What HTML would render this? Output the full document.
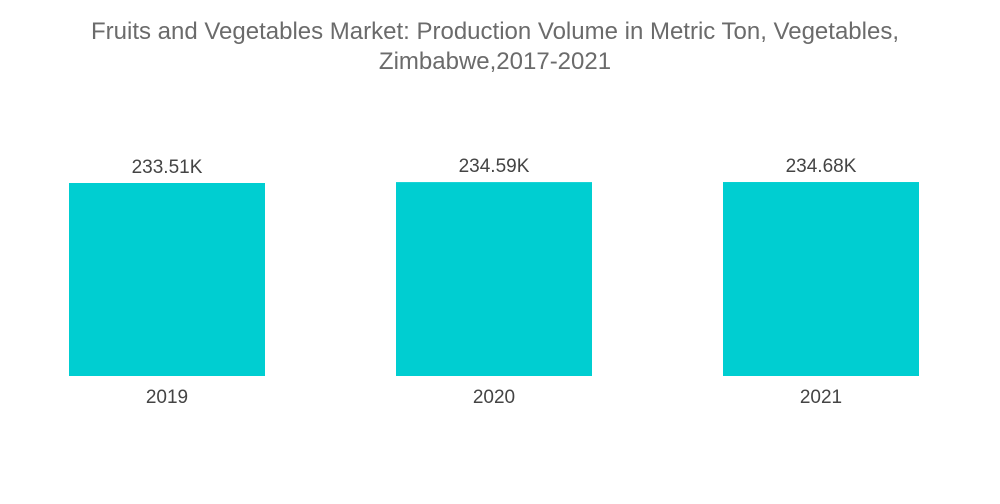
<!DOCTYPE html>
<html>
<head>
<meta charset="utf-8">
<style>
  html,body{margin:0;padding:0;background:#fff;}
  body{width:1000px;height:504px;overflow:hidden;font-family:"Liberation Sans",sans-serif;}
  .title{position:absolute;left:0;top:17px;width:990px;text-align:center;font-size:24px;line-height:30px;color:#6b6b6b;}
</style>
</head>
<body>
<div class="title">Fruits and Vegetables Market: Production Volume in Metric Ton, Vegetables,<br>Zimbabwe,2017-2021</div>
<svg id="chart" width="1000" height="504" style="position:absolute;left:0;top:0"></svg>
<script>
const categories = ["2019", "2020", "2021"];
const values = [233.51, 234.59, 234.68];
const valueLabels = ["233.51K", "234.59K", "234.68K"];

const svg = document.getElementById('chart');
const NS = 'http://www.w3.org/2000/svg';
const baseY = 376, pxPerUnit = 193 / 233.51;
const barW = 196, firstX = 69, step = 327;
function xPos(i){ return firstX + i * step; }
function yPos(v){ return baseY - v * pxPerUnit; }

categories.forEach((c, i) => {
  const x = xPos(i), y = yPos(values[i]);
  const r = document.createElementNS(NS, 'rect');
  r.setAttribute('x', x); r.setAttribute('y', y);
  r.setAttribute('width', barW); r.setAttribute('height', baseY - y);
  r.setAttribute('fill', '#00ced1');
  
  
  svg.appendChild(r);

  const vl = document.createElementNS(NS, 'text');
  vl.setAttribute('x', x + barW / 2); vl.setAttribute('y', y - 10);
  vl.setAttribute('text-anchor', 'middle');
  vl.setAttribute('font-size', '19'); vl.setAttribute('fill', '#444');
  vl.setAttribute('font-family', 'Liberation Sans, sans-serif');
  vl.textContent = valueLabels[i];
  
  
  svg.appendChild(vl);

  const cl = document.createElementNS(NS, 'text');
  cl.setAttribute('x', x + barW / 2); cl.setAttribute('y', 403);
  cl.setAttribute('text-anchor', 'middle');
  cl.setAttribute('font-size', '19'); cl.setAttribute('fill', '#444');
  cl.setAttribute('font-family', 'Liberation Sans, sans-serif');
  cl.textContent = c;
  
  
  svg.appendChild(cl);
});
</script>
</body>
</html>
